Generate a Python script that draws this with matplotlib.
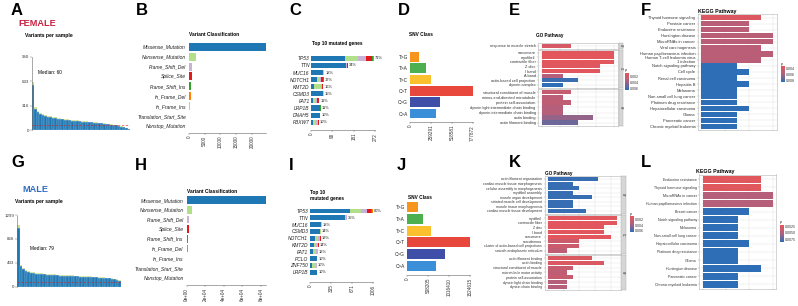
import numpy as np
import matplotlib
matplotlib.use('Agg')
import matplotlib.pyplot as plt
from matplotlib.colors import LinearSegmentedColormap, Normalize

plt.rcParams['font.family'] = ['Liberation Sans', 'DejaVu Sans']

# ---- data ----
# variants per sample (waterfall), female / male
a_total = [626, 300, 245, 225, 210, 195, 185, 178, 170, 163, 157, 152, 147, 143, 139, 135,
           131, 127, 124, 121, 118, 115, 112, 109, 106, 103, 100, 96, 92, 88, 84, 80, 75, 70,
           64, 57, 48, 38, 26, 12]
a_other = [40, 25, 18, 16, 15, 14, 13, 12, 12, 11, 11, 10, 10, 10, 9, 9, 9, 9, 8, 8, 8, 8,
           7, 7, 7, 7, 7, 6, 6, 6, 6, 5, 5, 5, 4, 4, 3, 3, 2, 1]
g_total = [1118, 400, 340, 310, 290, 275, 265, 257, 250, 244, 239, 234, 230, 226, 222, 219,
           216, 213, 210, 207, 208, 205, 202, 199, 196, 193, 190, 187, 185, 182, 179, 176,
           172, 168, 164, 160, 155, 148, 138, 118]
g_other = [60, 30, 25, 22, 20, 19, 18, 18, 17, 17, 16, 16, 16, 15, 15, 15, 15, 14, 14, 14,
           14, 14, 13, 13, 13, 13, 13, 12, 12, 12, 12, 11, 11, 11, 10, 10, 9, 9, 8, 7]
a_median = 60
g_median = 79

# variant classification
vc_names = ['Missense_Mutation', 'Nonsense_Mutation', 'Frame_Shift_Del', 'Splice_Site',
            'Frame_Shift_Ins', 'In_Frame_Del', 'In_Frame_Ins', 'Translation_Start_Site',
            'Nonstop_Mutation']
vc_colors = ['#1F78B4', '#B2DF8A', '#CAB2D6', '#E31A1C', '#33A02C', '#FF7F00', '#A6CEE3',
             '#FDBF6F', '#CAB2D6']
b_counts = [24500, 2350, 1050, 850, 650, 500, 200, 100, 80]
h_counts = [85000, 5700, 2500, 2400, 1800, 1400, 400, 200, 150]

# top 10 genes, stacked by class (Missense, Nonsense, FS_Del, Splice, FS_Ins, IF_Del)
c_genes = ['TP53', 'TTN', 'MUC16', 'NOTCH1', 'KMT2D', 'CSMD3', 'FAT1', 'LRP1B', 'DNAH5', 'FBXW7']
c_missense = [144, 148, 50, 24, 12, 50, 7, 37, 37, 8]
c_nonsense = [56, 2, 6, 12, 28, 4, 12, 0, 0, 14]
c_fsdel = [34, 2, 0, 6, 4, 0, 6, 0, 0, 6]
c_splice = [25, 3, 0, 8, 8, 0, 6, 0, 2, 4]
c_fsins = [6, 0, 0, 3, 0, 0, 4, 3, 0, 0]
c_ifdel = [3, 0, 0, 0, 0, 0, 0, 0, 0, 0]
c_pct = ['71%', '34%', '18%', '17%', '16%', '15%', '11%', '11%', '10%', '10%']

i_genes = ['TP53', 'TTN', 'MUC16', 'CSMD3', 'NOTCH1', 'KMT2D', 'FAT1', 'PCLO', 'ZNF750', 'LRP1B']
i_missense = [643, 556, 169, 160, 87, 58, 48, 106, 34, 106]
i_nonsense = [170, 20, 15, 19, 48, 39, 48, 10, 63, 10]
i_fsdel = [92, 8, 0, 0, 24, 24, 24, 0, 10, 0]
i_splice = [63, 7, 0, 0, 19, 15, 0, 0, 0, 0]
i_fsins = [20, 0, 0, 0, 0, 0, 0, 0, 0, 0]
i_ifdel = [18, 0, 0, 0, 0, 0, 0, 0, 0, 0]
i_pct = ['80%', '35%', '18%', '14%', '19%', '14%', '12%', '10%', '10%', '10%']

# SNV class
snv_names = ['T>G', 'T>A', 'T>C', 'C>T', 'C>G', 'C>A']
snv_colors = ['#F7941D', '#4CAF50', '#FBC02D', '#E8473B', '#3F4FA8', '#3A8FD8']
d_counts = [111000, 194000, 259000, 777872, 370000, 321000]
j_counts = [258000, 395000, 573000, 1524615, 912000, 694000]

# GO (female)
e_terms = [['response to muscle stretch'],
           ['sarcomere', 'myofibril', 'contractile fiber', 'Z disc', 'I band', 'A band',
            'actin-based cell projection', 'dynein complex'],
           ['structural constituent of muscle', 'minus-end-directed microtubule',
            'protein self-association', 'dynein light intermediate chain binding',
            'dynein intermediate chain binding', 'actin binding', 'actin filament binding']]
e_count = [[4], [10, 10, 10, 8, 8, 3, 5, 3], [4, 3, 4, 3, 3, 7, 5]]
e_p = [[0.0016], [0.0009, 0.0009, 0.0009, 0.0011, 0.0011, 0.0033, 0.0061, 0.0064],
       [0.0025, 0.003, 0.0028, 0.0033, 0.0033, 0.0042, 0.005]]

# GO (male)
k_terms = [['actin filament organization', 'cardiac muscle tissue morphogenesis',
            'cellular assembly in morphogenesis', 'myofibril assembly',
            'muscle organ development', 'striated muscle cell development',
            'muscle tissue morphogenesis', 'cardiac muscle tissue development'],
           ['myofibril', 'contractile fiber', 'Z disc', 'I band', 'sarcomere', 'sarcolemma',
            'cluster of actin-based cell projections', 'smooth endoplasmic reticulum'],
           ['actin filament binding', 'actin binding', 'structural constituent of muscle',
            'microtubule motor activity', 'protein self-association',
            'dynein light chain binding', 'dynein chain binding']]
k_count = [[8, 4, 5, 4, 7, 4, 4, 6], [11, 11, 9, 9, 10, 5, 5, 3], [7, 9, 4, 3, 4, 3, 3]]
k_p = [[0.0062] * 8,
       [0.001, 0.001, 0.001, 0.001, 0.001, 0.0022, 0.0022, 0.0028],
       [0.0014, 0.0014, 0.0025, 0.0028, 0.0025, 0.0033, 0.0033]]

# KEGG
f_terms = ['Thyroid hormone signaling', 'Prostate cancer', 'Endocrine resistance',
           'Huntington disease', 'MicroRNAs in cancer', 'Viral carcinogenesis',
           'Human papillomavirus infection', 'Human T-cell leukemia virus\n1 infection',
           'Notch signaling pathway', 'Cell cycle', 'Renal cell carcinoma', 'Hepatitis B',
           'Melanoma', 'Non-small cell lung cancer', 'Platinum drug resistance',
           'Hepatocellular carcinoma', 'Glioma', 'Pancreatic cancer', 'Chronic myeloid leukemia']
f_count = [5, 4, 4, 6, 6, 5, 6, 5, 3, 4, 3, 4, 3, 3, 3, 4, 3, 3, 3]
f_p = [0.0037] + [0.0054] * 7 + [0.0086] * 11

l_terms = ['Endocrine resistance', 'Thyroid hormone signaling', 'MicroRNAs in cancer',
           'Human papillomavirus infection', 'Breast cancer', 'Notch signaling pathway',
           'Melanoma', 'Non-small cell lung cancer', 'Hepatocellular carcinoma',
           'Platinum drug resistance', 'Glioma', 'Huntington disease', 'Pancreatic cancer',
           'Chronic myeloid leukemia']
l_count = [5, 5, 6, 6, 4, 3, 3, 3, 4, 3, 3, 5, 3, 3]
l_p = [0.0021, 0.0021, 0.0048, 0.0048] + [0.0085] * 10

# ---- layout helpers (pixel coords, origin top-left) ----
W, H = 798, 306
fig = plt.figure(figsize=(W / 100, H / 100), dpi=100)
pcmap = LinearSegmentedColormap.from_list('p', ['#E5565B', '#B0607E', '#2E6EB6'])
TICK_FS = 3.3


def box(x0, y0, x1, y1):
    return fig.add_axes([x0 / W, 1 - y1 / H, (x1 - x0) / W, (y1 - y0) / H])


def put(x, y, s, **kw):
    fig.text(x / W, 1 - y / H, s, **kw)


def bottom_only(ax):
    for s in ['top', 'right', 'left']:
        ax.spines[s].set_visible(False)
    ax.spines['bottom'].set_linewidth(0.4)
    ax.spines['bottom'].set_color('#666666')
    ax.tick_params(axis='x', length=1.2, width=0.3, pad=0.8, color='#666666')


def waterfall(ax, total, other, ymax, ticks, median):
    total = np.array(total)
    other = np.array(other)
    idx = np.arange(len(total))
    ax.bar(idx, total - other, width=1, color='#1F78B4', edgecolor='white', linewidth=0.12)
    ax.bar(idx, other, bottom=total - other, width=1, color='#C9DC8E',
           edgecolor='white', linewidth=0.12)
    ax.axhline(median, color='#E31A1C', ls=(0, (4, 3)), lw=0.4, zorder=5)
    ax.set_xlim(-0.5, len(total) - 0.5)
    ax.set_ylim(0, ymax)
    ax.set_yticks(ticks)
    ax.set_yticklabels([str(t) for t in ticks], fontsize=3.2, color='#333333')
    ax.tick_params(axis='y', length=1.2, width=0.3, pad=0.8, color='#666666')
    ax.set_xticks([])
    for s in ['top', 'right', 'bottom']:
        ax.spines[s].set_visible(False)
    ax.spines['left'].set_linewidth(0.4)
    ax.spines['left'].set_color('#666666')


def vc_bar(ax, counts, xmax, ticks, ticklabels, ymax):
    y = np.arange(len(counts))
    ax.barh(y, counts, height=0.8, color=vc_colors)
    ax.set_xlim(0, xmax)
    ax.set_ylim(ymax, -0.5)
    ax.set_yticks(y)
    ax.set_yticklabels(vc_names, fontstyle='italic', fontsize=3.6, color='#222222')
    ax.tick_params(axis='y', length=0, pad=2.2)
    ax.set_xticks(ticks)
    ax.set_xticklabels(ticklabels, rotation=90, fontsize=TICK_FS, color='#333333')
    bottom_only(ax)


def top_genes(ax, genes, layers, pct, xmax, ticks, ymax):
    y = np.arange(len(genes))
    left = np.zeros(len(genes))
    for vals, col in zip(layers, vc_colors[:6]):
        vals = np.array(vals, dtype=float)
        ax.barh(y, vals, left=left, height=0.72, color=col)
        left += vals
    for yi, tot, p in zip(y, left, pct):
        ax.text(tot + xmax * 0.015, yi, p, va='center', ha='left', fontsize=2.9, color='#222222')
    ax.set_xlim(0, xmax)
    ax.set_ylim(ymax, -0.5)
    ax.set_yticks(y)
    ax.set_yticklabels(genes, fontstyle='italic', fontsize=3.5, color='#222222')
    ax.tick_params(axis='y', length=0, pad=1.2)
    ax.set_xticks(ticks)
    ax.set_xticklabels([str(t) for t in ticks], rotation=90, fontsize=TICK_FS, color='#333333')
    bottom_only(ax)


def snv_bar(ax, counts, ticks, ymax):
    y = np.arange(len(counts))
    ax.barh(y, counts, height=0.86, color=snv_colors)
    ax.set_xlim(0, ticks[-1])
    ax.set_ylim(ymax, -0.5)
    ax.set_yticks(y)
    ax.set_yticklabels(snv_names, fontsize=3.4, color='#222222')
    ax.tick_params(axis='y', length=0, pad=1.5)
    ax.set_xticks(ticks)
    ax.set_xticklabels([str(t) for t in ticks], rotation=90, fontsize=TICK_FS, color='#333333')
    bottom_only(ax)


def enrich(ax, terms, counts, ps, xlim, xticks, norm, fs, ylim=None):
    y = np.arange(len(terms))
    ax.set_axisbelow(True)
    ax.barh(y, counts, height=0.88, color=pcmap(norm(np.array(ps))), edgecolor='none')
    ax.set_xlim(*xlim)
    if ylim is None:
        ylim = (len(terms) - 0.5 + 0.15, -0.65)
    ax.set_ylim(*ylim)
    ax.set_yticks(y)
    ax.set_yticklabels(terms, fontsize=fs, color='#333333', linespacing=0.9)
    ax.set_xticks(xticks)
    ax.set_xticklabels([])
    ax.tick_params(axis='both', length=0.9, width=0.3, pad=0.8, color='#888888')
    ax.grid(True, color='#E6E6E6', lw=0.35)
    for s in ax.spines.values():
        s.set_linewidth(0.4)
        s.set_color('#B5B5B5')


def strip(x0, y0, x1, y1, txt):
    sa = box(x0, y0, x1, y1)
    sa.set_facecolor('#D6D6D6')
    sa.set_xticks([])
    sa.set_yticks([])
    for s in sa.spines.values():
        s.set_linewidth(0.3)
        s.set_color('#AAAAAA')
    sa.text(0.5, 0.5, txt, rotation=-90, ha='center', va='center', fontsize=1.8,
            color='#333333', transform=sa.transAxes)


def pbar(x, y0, y1, norm, ticks, labels):
    cax = box(x, y0, x + 4, y1)
    grad = np.linspace(norm.vmin, norm.vmax, 100).reshape(-1, 1)
    cax.imshow(grad, aspect='auto', cmap=pcmap, norm=norm, origin='lower',
               extent=[0, 1, norm.vmin, norm.vmax])
    cax.set_ylim(norm.vmax, norm.vmin)
    cax.set_xticks([])
    cax.yaxis.tick_right()
    cax.set_yticks(ticks)
    cax.set_yticklabels(labels, fontsize=2.6, color='#333333')
    cax.tick_params(axis='y', length=0, pad=0.8)
    for s in cax.spines.values():
        s.set_visible(False)
    put(x, y0 - 2.5, 'p', fontsize=2.9, color='#333333', va='center')


# ---- panel letters & headers ----
letters = [('A', 11, 3), ('B', 136, 3), ('C', 289, 3), ('D', 398, 3), ('E', 509, 3),
           ('F', 641, 3), ('G', 11, 155), ('H', 135, 158), ('I', 289, 158), ('J', 397, 158),
           ('K', 509, 155), ('L', 641, 155)]
for t, x, y in letters:
    put(x, y, t, fontsize=12, fontweight='bold', va='top', ha='left')

put(18, 23, 'FEMALE', fontsize=6.6, fontweight='bold', color='#C8203F', va='center')
put(22, 189, 'MALE', fontsize=6.6, fontweight='bold', color='#2E6CC4', va='center')

# ---- A / G ----
ax = box(32, 56.7, 130, 130)
waterfall(ax, a_total, a_other, 950, [0, 316, 633, 950], a_median)
put(25, 36, 'Variants per sample', fontsize=3.6, fontweight='bold', va='center')
put(38, 72, 'Median: 60', fontsize=3.4, va='center')

ax = box(17, 215, 121, 286.7)
waterfall(ax, g_total, g_other, 1299, [0, 433, 866, 1299], g_median)
put(15, 202, 'Variants per sample', fontsize=3.6, fontweight='bold', va='center')
put(30, 249, 'Median: 79', fontsize=3.4, va='center')

# ---- B / H ----
ax = box(189, 41.8, 266, 132.9)
vc_bar(ax, b_counts, 24500, [0, 5000, 10000, 15000, 20000],
       ['0', '5000', '10000', '15000', '20000'], 8.7)
put(189, 35, 'Variant Classification', fontsize=3.5, fontweight='bold', va='center')

ax = box(186.7, 195.1, 266, 285)
vc_bar(ax, h_counts, 85400, [0, 20000, 40000, 60000, 80000],
       ['0e+00', '2e+04', '4e+04', '6e+04', '8e+04'], 8.75)
put(187, 191.5, 'Variant Classification', fontsize=3.5, fontweight='bold', va='center')

# ---- C / I ----
ax = box(311.3, 54.8, 375, 130)
top_genes(ax, c_genes, [c_missense, c_nonsense, c_fsdel, c_splice, c_fsins, c_ifdel],
          c_pct, 272, [0, 90, 181, 272], 10.1)
put(312, 43, 'Top 10 mutated genes', fontsize=3.4, fontweight='bold', va='center')

ax = box(310, 207.6, 373, 281.7)
top_genes(ax, i_genes, [i_missense, i_nonsense, i_fsdel, i_splice, i_fsins, i_ifdel],
          i_pct, 1006, [0, 335, 671, 1006], 10.4)
put(310, 192.3, 'Top 10', fontsize=3.4, fontweight='bold', va='center')
put(310, 198.3, 'mutated genes', fontsize=3.4, fontweight='bold', va='center')

# ---- D / J ----
ax = box(410, 51.3, 472.7, 122)
snv_bar(ax, d_counts, [0, 259291, 518581, 777872], 5.74)
put(409, 35, 'SNV Class', fontsize=3.4, fontweight='bold', va='center')

ax = box(407, 201.5, 470, 275)
snv_bar(ax, j_counts, [0, 508205, 1016410, 1524615], 5.8)
put(408, 197.5, 'SNV Class', fontsize=3.4, fontweight='bold', va='center')

# ---- E ----
e_norm = Normalize(0.0008, 0.0064)
e_bounds = [(43.0, 48.6), (49.6, 87.8), (88.9, 126.0)]
for terms, cnt, ps, (t, b), lab in zip(e_terms, e_count, e_p, e_bounds, ['BP', 'CC', 'MF']):
    ax = box(538, t, 618, b)
    enrich(ax, terms, cnt, ps, (-0.5, 10.5), [0, 2.5, 5, 7.5, 10], e_norm, 2.8)
    strip(618.5, t, 622.5, b, lab)
put(536, 35, 'GO Pathway', fontsize=3.3, fontweight='bold', va='center')
pbar(625, 73, 90, e_norm, [0.002, 0.004, 0.006], ['0.002', '0.004', '0.006'])

# ---- K ----
k_norm = Normalize(0.0008, 0.0064)
k_bounds = [(176.0, 213.8), (215.2, 253.5), (254.9, 290.0)]
for terms, cnt, ps, (t, b), lab in zip(k_terms, k_count, k_p, k_bounds, ['BP', 'CC', 'MF']):
    ax = box(544.5, t, 620.5, b)
    enrich(ax, terms, cnt, ps, (-0.55, 11.55), [0, 2.5, 5, 7.5, 10], k_norm, 2.55)
    strip(621, t, 625.5, b, lab)
put(545, 173, 'GO Pathway', fontsize=3.3, fontweight='bold', va='center')
pbar(630, 216, 232, k_norm, [0.002, 0.004, 0.006], ['0.002', '0.004', '0.006'])

# ---- F ----
f_norm = Normalize(0.0032, 0.0086)
ax = box(697.7, 14.1, 776.7, 129.9)
enrich(ax, f_terms, f_count, f_p, (-0.3, 6.3), [0, 2, 4, 6], f_norm, 2.85,
       ylim=(len(f_terms) - 0.4, -0.6))
put(698, 11.5, 'KEGG Pathway', fontsize=3.8, fontweight='bold', va='center')
pbar(781, 66, 82, f_norm, [0.004, 0.006, 0.008], ['0.004', '0.006', '0.008'])

# ---- L ----
l_norm = Normalize(0.0018, 0.0085)
ax = box(699.3, 174.5, 776, 289.1)
enrich(ax, l_terms, l_count, l_p, (-0.3, 6.3), [0, 2, 4, 6], l_norm, 2.6,
       ylim=(len(l_terms) - 0.4, -0.6))
put(696, 171, 'KEGG Pathway', fontsize=3.8, fontweight='bold', va='center')
pbar(780, 225, 241.7, l_norm, [0.0025, 0.005, 0.0075], ['0.0025', '0.0050', '0.0075'])

fig.savefig('out.png', dpi=100)
